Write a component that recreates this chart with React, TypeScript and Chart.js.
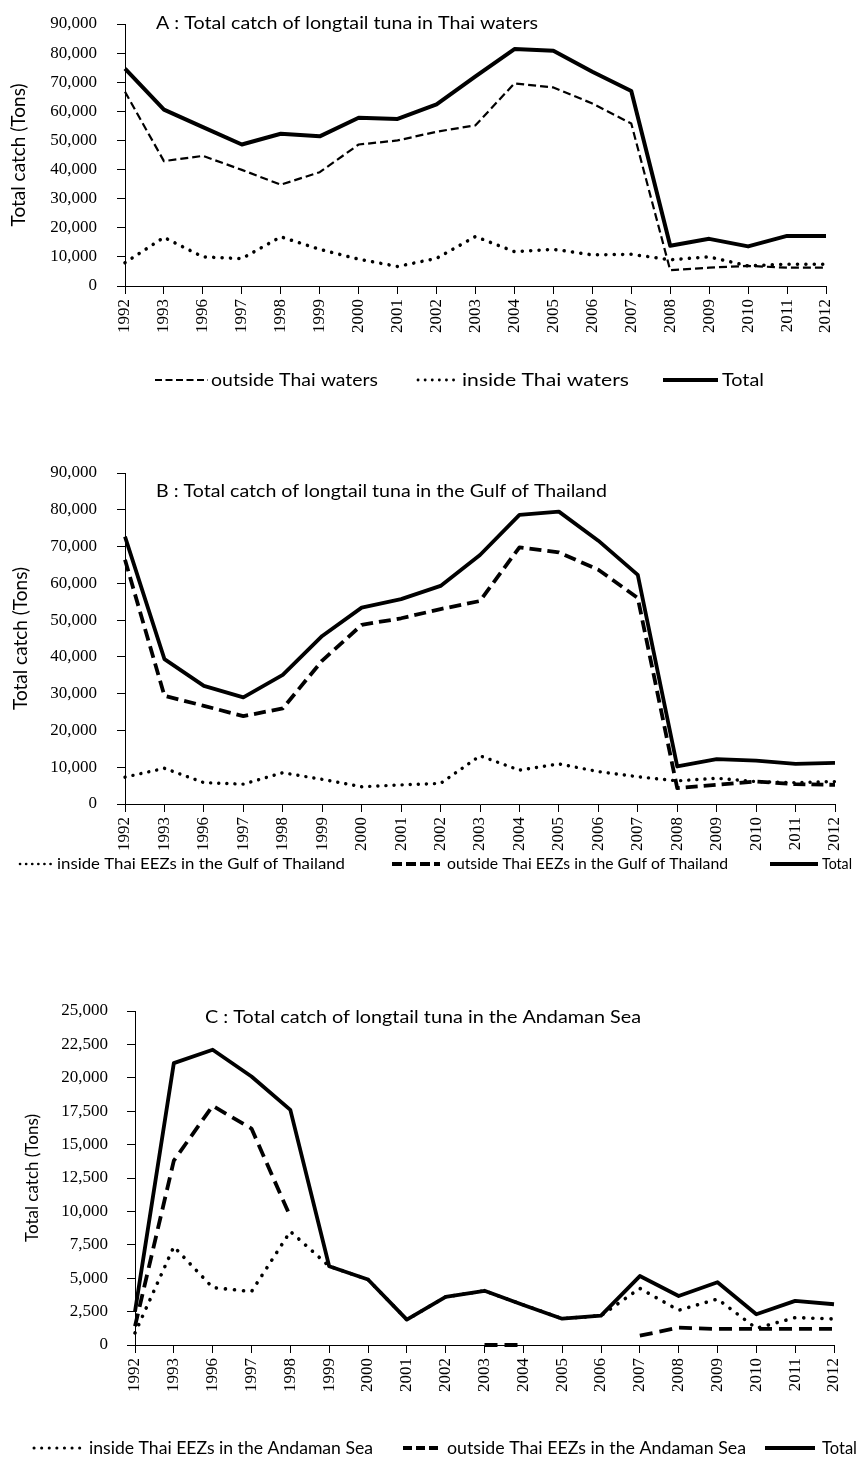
import React, { useEffect, useRef } from 'react';
import { Chart, registerables } from 'chart.js';

Chart.register(...registerables);

// ---------- data ----------
const years = ['1992', '1993', '1996', '1997', '1998', '1999', '2000', '2001', '2002', '2003', '2004', '2005', '2006', '2007', '2008', '2009', '2010', '2011', '2012'];

const aOutside = [66700, 42900, 44700, 39900, 34800, 39100, 48600, 50000, 53000, 55200, 69600, 68200, 62700, 55800, 5400, 6300, 6900, 6300, 6300];
const aInside = [8000, 16700, 10000, 9400, 16900, 12600, 9200, 6700, 9500, 17000, 11800, 12600, 10700, 10900, 9000, 10000, 6900, 7500, 7500];
const aTotal = [74700, 60600, 54600, 48600, 52300, 51400, 57800, 57400, 62400, 72000, 81400, 80800, 73600, 67000, 13800, 16200, 13600, 17200, 17200];

const bInside = [7300, 9700, 5800, 5400, 8500, 6700, 4700, 5200, 5600, 13100, 9200, 10900, 8800, 7400, 6300, 7000, 6100, 5800, 6100];
const bOutside = [66400, 29400, 26700, 23900, 26000, 39000, 48700, 50500, 53000, 55200, 69800, 68400, 63700, 56000, 4300, 5200, 6100, 5400, 5200];
const bTotal = [72700, 39400, 32100, 29000, 35100, 45700, 53400, 55700, 59300, 67700, 78600, 79500, 71600, 62300, 10200, 12200, 11800, 10900, 11200];

const cInside = [900, 7360, 4300, 4000, 8500, 5900, 4900, 1900, 3600, 4060, 3000, 1970, 2200, 4240, 2600, 3440, 1250, 2050, 1950];
const cOutside = [1400, 13800, 17900, 16200, 9600, null, null, null, null, 0, 0, null, null, 700, 1300, 1200, 1200, 1200, 1200];
const cTotal = [2500, 21100, 22100, 20100, 17600, 5900, 4900, 1900, 3600, 4060, 3000, 1970, 2200, 5160, 3670, 4700, 2300, 3300, 3050];

const titleA = 'A : Total catch of longtail tuna in Thai waters';
const titleB = 'B : Total catch of longtail tuna in the Gulf of Thailand';
const titleC = 'C : Total catch of longtail tuna in the Andaman Sea';
const yTitle = 'Total catch (Tons)';

// ---------- overlay plugin (panel title + legend) ----------
function fitText(ctx: CanvasRenderingContext2D, text: string, x: number, y: number, w: number) {
  const m = ctx.measureText(text).width;
  ctx.save();
  ctx.translate(x, y);
  ctx.scale(w / m, 1);
  ctx.fillText(text, 0, 0);
  ctx.restore();
}

const overlayPlugin = {
  id: 'overlay',
  afterDraw(chart: any, _args: any, opts: any) {
    const ctx: CanvasRenderingContext2D = chart.ctx;
    ctx.save();
    ctx.fillStyle = '#000';
    ctx.textAlign = 'left';
    if (opts.title) {
      ctx.font = opts.title.font;
      ctx.textBaseline = 'alphabetic';
      fitText(ctx, opts.title.text, opts.title.x, opts.title.y, opts.title.w);
    }
    const lg = opts.legend;
    if (lg) {
      lg.items.forEach((it: any) => {
        const ds = chart.data.datasets[it.ds];
        ctx.save();
        ctx.strokeStyle = '#000';
        ctx.lineWidth = it.lw ?? ds.borderWidth;
        ctx.setLineDash(it.dash ?? ds.borderDash ?? []);
        ctx.lineCap = it.cap ?? ds.borderCapStyle ?? 'butt';
        ctx.beginPath();
        ctx.moveTo(it.sx, lg.y);
        ctx.lineTo(it.sx + it.sw, lg.y);
        ctx.stroke();
        ctx.restore();
        ctx.font = lg.font;
        ctx.textBaseline = 'middle';
        fitText(ctx, ds.label, it.tx, lg.y, it.tw);
      });
    }
    ctx.restore();
  },
};

function buildConfig(p: any) {
  return {
    type: 'line',
    data: { labels: years, datasets: p.datasets },
    plugins: [overlayPlugin],
    options: {
      responsive: false,
      animation: false,
      layout: { padding: { top: p.padTop, right: p.padRight, left: 0, bottom: 0 } },
      elements: { point: { radius: 0 }, line: { tension: 0 } },
      plugins: {
        legend: { display: false },
        tooltip: { enabled: false },
        overlay: { title: p.title, legend: p.legend },
      },
      scales: {
        x: {
          type: 'category',
          offset: false,
          grid: { display: true, drawOnChartArea: false, drawTicks: true, tickLength: 8, color: '#000', lineWidth: 1 },
          border: { display: true, color: '#000', width: 1 },
          ticks: {
            color: '#000',
            font: { family: 'Liberation Serif', size: 17 },
            maxRotation: 90,
            minRotation: 90,
            padding: 5,
            autoSkip: false,
          },
          afterFit: (s: any) => {
            s.height = p.xAxisHeight;
            s.paddingLeft = 0;
            s.paddingRight = 0;
          },
        },
        y: {
          min: 0,
          max: p.max,
          ticks: {
            stepSize: p.step,
            color: '#000',
            font: { family: 'Liberation Serif', size: 17 },
            padding: p.yTickPad,
            callback: (v: any) => Number(v).toLocaleString('en-US'),
          },
          grid: { display: true, drawOnChartArea: false, drawTicks: true, tickLength: 8, color: '#000', lineWidth: 1 },
          border: { display: true, color: '#000', width: 1 },
          title: {
            display: true,
            text: yTitle,
            color: '#000',
            font: { family: 'Lato', size: p.yTitleSize },
            padding: { top: p.yTitlePad, bottom: 0 },
          },
          afterFit: (s: any) => {
            s.width = p.left;
            s.paddingTop = 0;
            s.paddingBottom = 0;
          },
        },
      },
    },
  };
}

const solid = (label: string, data: any[], w = 3.6) => ({
  label, data, borderColor: '#000', backgroundColor: '#000', borderWidth: w,
  borderJoinStyle: 'round', order: 0, clip: false,
});
const dashed = (label: string, data: any[], w: number, dash: number[]) => ({
  label, data, borderColor: '#000', backgroundColor: '#000', borderWidth: w,
  borderDash: dash, borderCapStyle: 'butt', borderJoinStyle: 'round', order: 1, clip: false, spanGaps: false,
});
const dotted = (label: string, data: any[], w: number, gap: number) => ({
  label, data, borderColor: '#000', backgroundColor: '#000', borderWidth: w,
  borderDash: [0.1, gap], borderCapStyle: 'round', borderJoinStyle: 'round', order: 2, clip: false,
});

const configA = () => buildConfig({
  datasets: [
    dashed('outside Thai waters', aOutside, 2.2, [8, 4]),
    dotted('inside Thai waters', aInside, 3.5, 8.3),
    solid('Total', aTotal, 4),
  ],
  padTop: 24, padRight: 32, xAxisHeight: 114, left: 125,
  max: 90000, step: 10000, yTickPad: 20, yTitleSize: 19, yTitlePad: 7,
  title: { text: titleA, x: 156, y: 28.5, w: 382, font: '18px Lato' },
  legend: {
    y: 380, font: '18px Lato',
    items: [
      { ds: 0, sx: 155, sw: 53, tx: 211, tw: 167, dash: [7, 3.5], lw: 2 },
      { ds: 1, sx: 418, sw: 39, tx: 462, tw: 167, dash: [0.1, 7], lw: 2.8 },
      { ds: 2, sx: 663, sw: 55, tx: 722, tw: 42 },
    ],
  },
});

const configB = () => buildConfig({
  datasets: [
    dotted('inside Thai EEZs in the Gulf of Thailand', bInside, 3.4, 8),
    dashed('outside Thai EEZs in the Gulf of Thailand', bOutside, 3.8, [12, 6]),
    solid('Total', bTotal, 3.8),
  ],
  padTop: 18, padRight: 23, xAxisHeight: 81, left: 125,
  max: 90000, step: 10000, yTickPad: 20, yTitleSize: 19, yTitlePad: 9,
  title: { text: titleB, x: 156, y: 42, w: 451, font: '18px Lato' },
  legend: {
    y: 409, font: '16px Lato',
    items: [
      { ds: 0, sx: 20, sw: 33, tx: 57, tw: 288, dash: [0.1, 6], lw: 2.6 },
      { ds: 1, sx: 392, sw: 48, tx: 447, tw: 281, dash: [10, 4], lw: 4 },
      { ds: 2, sx: 770, sw: 48, tx: 822, tw: 30, lw: 4 },
    ],
  },
});

const configC = () => buildConfig({
  datasets: [
    dotted('inside Thai EEZs in the Andaman Sea', cInside, 3.6, 9),
    dashed('outside Thai EEZs in the Andaman Sea', cOutside, 3.8, [13, 7]),
    solid('Total', cTotal, 3.8),
  ],
  padTop: 21, padRight: 24, xAxisHeight: 114, left: 135,
  max: 25000, step: 2500, yTickPad: 19, yTitleSize: 17, yTitlePad: 22,
  title: { text: titleC, x: 205, y: 32.5, w: 436, font: '18px Lato' },
  legend: {
    y: 458, font: '18px Lato',
    items: [
      { ds: 0, sx: 34, sw: 46, tx: 89, tw: 284, dash: [0.1, 7.5], lw: 3 },
      { ds: 1, sx: 403, sw: 35, tx: 447, tw: 299, dash: [9, 4], lw: 4 },
      { ds: 2, sx: 765, sw: 50, tx: 822, tw: 35, lw: 4 },
    ],
  },
});

function Panel({ top, height, make }: { top: number; height: number; make: () => any }) {
  const ref = useRef<HTMLCanvasElement>(null);
  useEffect(() => {
    const chart = new Chart(ref.current as HTMLCanvasElement, make());
    return () => chart.destroy();
  }, []);
  return (
    <canvas
      ref={ref}
      width={858}
      height={height}
      style={{ position: 'absolute', left: 0, top, width: 858, height, display: 'block' }}
    />
  );
}

export default function App() {
  return (
    <div style={{ position: 'absolute', left: 0, top: 0, width: 858, height: 1459, background: '#fff' }}>
      <Panel top={0} height={400} make={configA} />
      <Panel top={455} height={430} make={configB} />
      <Panel top={990} height={469} make={configC} />
    </div>
  );
}
